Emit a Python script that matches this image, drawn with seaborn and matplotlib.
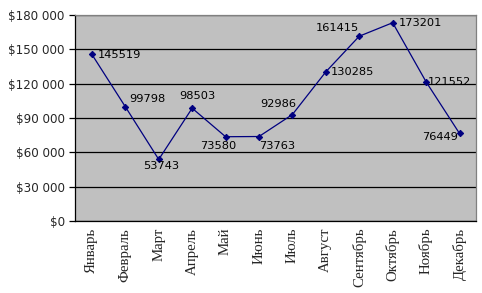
import matplotlib
matplotlib.use("Agg")
import matplotlib.pyplot as plt
import seaborn as sns
import pandas as pd
from matplotlib.ticker import FuncFormatter, FixedLocator

months = ["Январь", "Февраль", "Март", "Апрель", "Май", "Июнь",
          "Июль", "Август", "Сентябрь", "Октябрь", "Ноябрь", "Декабрь"]
values = [145519, 99798, 53743, 98503, 73580, 73763,
          92986, 130285, 161415, 173201, 121552, 76449]
y_ticks = [0, 30000, 60000, 90000, 120000, 150000, 180000]

# label centre offsets from the point, in pixels (dx right, dy up)
label_off = [(28, -1), (22, 8), (2, -7), (5, 12), (-7, -9), (18, -9),
             (-14, 11), (27, 0), (-22, 8), (28, 0), (23, 0), (-19, -4)]

sns.set_style("white")
plt.rcParams["font.family"] = ["DejaVu Sans"]

df = pd.DataFrame({"month": months, "value": values, "pos": range(len(months))})

fig = plt.figure(figsize=(4.82, 2.93), dpi=100)
ax = fig.add_axes([0.156, 0.246, 0.832, 0.703])
ax.set_facecolor("#c0c0c0")

sns.lineplot(data=df, x="pos", y="value", ax=ax, color="#000080", lw=0.9,
             marker="D", markersize=3.2, markeredgecolor="#000080", zorder=3)

px = 72 / fig.dpi
for i, v in enumerate(values):
    dx, dy = label_off[i]
    ax.annotate(str(v), (i, v), xytext=(dx * px, dy * px), textcoords="offset points",
                ha="center", va="center", fontsize=8.2, color="black", zorder=4)

ax.set_ylim(0, 180000)
ax.set_xlim(-0.5, len(months) - 0.5)
ax.yaxis.set_major_locator(FixedLocator(y_ticks))
ax.yaxis.set_major_formatter(FuncFormatter(lambda v, p: "$" + f"{int(v):,}".replace(",", " ")))
ax.grid(axis="y", color="black", lw=0.9)
ax.set_axisbelow(True)

ax.set_xticks(range(len(months)))
ax.set_xticklabels(months, rotation=90, fontsize=10.7, family="Liberation Serif")
ax.set_xticks([i - 0.5 for i in range(len(months) + 1)], minor=True)
ax.tick_params(axis="x", which="major", length=0, pad=5)
ax.tick_params(axis="x", which="minor", length=4, width=0.9, direction="out", color="black")
ax.tick_params(axis="y", length=4, width=0.9, direction="out", color="black", labelsize=8.6, left=True)
ax.set_xlabel("")
ax.set_ylabel("")

for s in ["top", "right"]:
    ax.spines[s].set_color("#808080")
    ax.spines[s].set_linewidth(0.9)
for s in ["left", "bottom"]:
    ax.spines[s].set_color("black")
    ax.spines[s].set_linewidth(0.9)

fig.savefig("out.png", dpi=100)
